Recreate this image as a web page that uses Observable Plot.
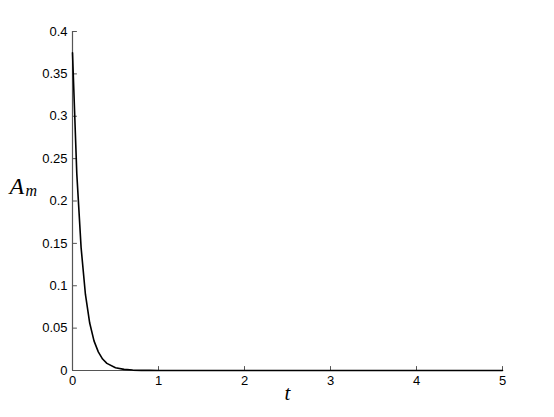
<!DOCTYPE html>
<html>
<head>
<meta charset="utf-8">
<script src="https://cdn.jsdelivr.net/npm/d3@7"></script>
<script src="https://cdn.jsdelivr.net/npm/@observablehq/plot@0.6"></script>
<style>
  html, body { margin: 0; padding: 0; background: #fff; }
  #chart svg { display: block; }
</style>
</head>
<body>
<div id="chart"></div>
<script>
// Data
const tValues  = [0, 0.05, 0.1, 0.15, 0.2, 0.25, 0.3, 0.35, 0.4, 0.5, 0.6, 0.7, 0.8, 0.9, 1.0, 2, 3, 4, 5];
const amValues = [0.375, 0.232, 0.145, 0.09, 0.056, 0.035, 0.022, 0.0135, 0.0084, 0.0032, 0.0013, 0.0005, 0.0002, 0.0001, 0, 0, 0, 0, 0];
const xTicks = [0, 1, 2, 3, 4, 5];
const yTicks = [0, 0.05, 0.1, 0.15, 0.2, 0.25, 0.3, 0.35, 0.4];
const xTickLabels = ["0", "1", "2", "3", "4", "5"];
const yTickLabels = ["0", "0.05", "0.1", "0.15", "0.2", "0.25", "0.3", "0.35", "0.4"];
const xLabel = "t";
const yLabelMain = "A";
const yLabelSub = "m";

const rows = tValues.map((t, i) => ({t, a: amValues[i]}));
const tickShape = {draw(ctx, l) { ctx.moveTo(0, 0); ctx.lineTo(0, -l); }};
const axisColor = "#555";

const chart = Plot.plot({
  width: 554,
  height: 417,
  marginLeft: 72,
  marginRight: 52,
  marginTop: 31,
  marginBottom: 47,
  style: {fontFamily: "'Liberation Sans', Arial, sans-serif", fontSize: "13px", color: "#000", background: "#fff"},
  x: {domain: [0, 5]},
  y: {domain: [0, 0.4]},
  marks: [
    Plot.axisX(xTicks, {tickSize: 0, tickPadding: 5, tickFormat: (d, i) => xTickLabels[i], label: null, fontSize: 13}),
    Plot.axisY(yTicks, {tickSize: 0, tickPadding: 5, tickFormat: (d, i) => yTickLabels[i], label: null, fontSize: 13}),
    Plot.vector(xTicks, {x: d => d, y: 0, length: 4, anchor: "start", rotate: 0, shape: tickShape, stroke: axisColor, strokeWidth: 1}),
    Plot.vector(yTicks, {x: 0, y: d => d, length: 4, anchor: "start", rotate: 90, shape: tickShape, stroke: axisColor, strokeWidth: 1}),
    Plot.ruleX([0], {stroke: axisColor, strokeWidth: 1.2}),
    Plot.ruleY([0], {stroke: axisColor, strokeWidth: 1.2}),
    Plot.line(rows, {x: "t", y: "a", stroke: "#000", strokeWidth: 1.6}),
    Plot.text([xLabel], {frameAnchor: "bottom", dy: 29.5, text: d => d, fontFamily: "'Liberation Serif', 'DejaVu Serif', serif", fontStyle: "italic", fontSize: 21}),
    Plot.text([yLabelMain], {frameAnchor: "left", dx: -63, dy: -15, textAnchor: "start", text: d => d, fontFamily: "'Liberation Serif', 'DejaVu Serif', serif", fontStyle: "italic", fontSize: 24}),
    Plot.text([yLabelSub], {frameAnchor: "left", dx: -47, dy: -10, textAnchor: "start", text: d => d, fontFamily: "'Liberation Serif', 'DejaVu Serif', serif", fontStyle: "italic", fontSize: 16})
  ]
});
document.getElementById("chart").appendChild(chart);
</script>
</body>
</html>
